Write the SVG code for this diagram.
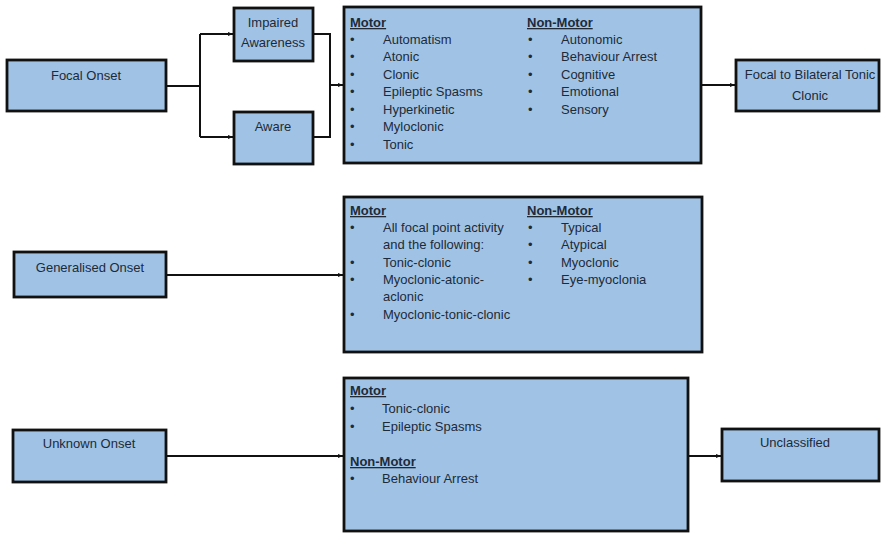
<svg xmlns="http://www.w3.org/2000/svg" width="882" height="533" viewBox="0 0 882 533">
<style>
.box{fill:#a0c3e5;stroke:#111;stroke-width:2.8}
text{font-family:"Liberation Sans",Arial,sans-serif;font-size:13px;fill:#1e2a38}
.c{text-anchor:middle}
.h{font-weight:bold;text-decoration:underline}
.conn{fill:none;stroke:#111;stroke-width:2}
</style>
<defs>
<marker id="ah" viewBox="0 0 10 10" refX="10" refY="5" markerWidth="5" markerHeight="5" orient="auto" markerUnits="userSpaceOnUse">
<path d="M0,1 L10,5 L0,9 z" fill="#111"/>
</marker>
</defs>
<g id="connectors">
<path class="conn" d="M166,86 H200 M200,34 V137"/>
<path class="conn" d="M200,34 H233" marker-end="url(#ah)"/>
<path class="conn" d="M200,137 H233" marker-end="url(#ah)"/>
<path class="conn" d="M313,34 H330 V137 H313 M330,85 H343" marker-end="url(#ah)"/>
<path class="conn" d="M701,85 H735" marker-end="url(#ah)"/>
<path class="conn" d="M166,275 H343" marker-end="url(#ah)"/>
<path class="conn" d="M166,456 H343" marker-end="url(#ah)"/>
<path class="conn" d="M688,456 H721" marker-end="url(#ah)"/>
</g>
<g id="focal-onset">
<rect class="box" x="7" y="60" width="159" height="51"/>
<text class="c" x="86" y="80">Focal Onset</text>
</g>
<g id="impaired-awareness">
<rect class="box" x="234" y="8" width="79" height="53"/>
<text class="c" x="273" y="27">Impaired</text>
<text class="c" x="273" y="47">Awareness</text>
</g>
<g id="aware">
<rect class="box" x="234" y="112" width="79" height="52"/>
<text class="c" x="273" y="131">Aware</text>
</g>
<g id="focal-types">
<rect class="box" x="344" y="7" width="357" height="156"/>
<text class="h" x="350" y="27">Motor</text>
<g>
<text x="350" y="44">•</text><text x="383" y="44">Automatism</text>
<text x="350" y="61">•</text><text x="383" y="61">Atonic</text>
<text x="350" y="79">•</text><text x="383" y="79">Clonic</text>
<text x="350" y="96">•</text><text x="383" y="96">Epileptic Spasms</text>
<text x="350" y="114">•</text><text x="383" y="114">Hyperkinetic</text>
<text x="350" y="131">•</text><text x="383" y="131">Myloclonic</text>
<text x="350" y="149">•</text><text x="383" y="149">Tonic</text>
</g>
<text class="h" x="527" y="27">Non-Motor</text>
<g>
<text x="528" y="44">•</text><text x="561" y="44">Autonomic</text>
<text x="528" y="61">•</text><text x="561" y="61">Behaviour Arrest</text>
<text x="528" y="79">•</text><text x="561" y="79">Cognitive</text>
<text x="528" y="96">•</text><text x="561" y="96">Emotional</text>
<text x="528" y="114">•</text><text x="561" y="114">Sensory</text>
</g>
</g>
<g id="focal-bilateral">
<rect class="box" x="736" y="60" width="143" height="51"/>
<text class="c" x="810" y="79">Focal to Bilateral Tonic</text>
<text class="c" x="810" y="100">Clonic</text>
</g>
<g id="generalised-onset">
<rect class="box" x="14" y="252" width="152" height="45"/>
<text class="c" x="90" y="272">Generalised Onset</text>
</g>
<g id="generalised-types">
<rect class="box" x="344" y="197" width="358" height="155"/>
<text class="h" x="350" y="215">Motor</text>
<text x="350" y="232">•</text><text x="383" y="232">All focal point activity</text>
<text x="383" y="249">and the following:</text>
<text x="350" y="267">•</text><text x="383" y="267">Tonic-clonic</text>
<text x="350" y="284">•</text><text x="383" y="284">Myoclonic-atonic-</text>
<text x="383" y="301">aclonic</text>
<text x="350" y="319">•</text><text x="383" y="319">Myoclonic-tonic-clonic</text>
<text class="h" x="527" y="215">Non-Motor</text>
<text x="528" y="232">•</text><text x="561" y="232">Typical</text>
<text x="528" y="249">•</text><text x="561" y="249">Atypical</text>
<text x="528" y="267">•</text><text x="561" y="267">Myoclonic</text>
<text x="528" y="284">•</text><text x="561" y="284">Eye-myoclonia</text>
</g>
<g id="unknown-onset">
<rect class="box" x="13" y="430" width="153" height="52"/>
<text class="c" x="89" y="448">Unknown Onset</text>
</g>
<g id="unknown-types">
<rect class="box" x="344" y="378" width="344" height="153"/>
<text class="h" x="350" y="395">Motor</text>
<text x="350" y="413">•</text><text x="382" y="413">Tonic-clonic</text>
<text x="350" y="431">•</text><text x="382" y="431">Epileptic Spasms</text>
<text class="h" x="350" y="466">Non-Motor</text>
<text x="350" y="483">•</text><text x="382" y="483">Behaviour Arrest</text>
</g>
<g id="unclassified">
<rect class="box" x="722" y="429" width="157" height="52"/>
<text class="c" x="795" y="447">Unclassified</text>
</g>
</svg>
